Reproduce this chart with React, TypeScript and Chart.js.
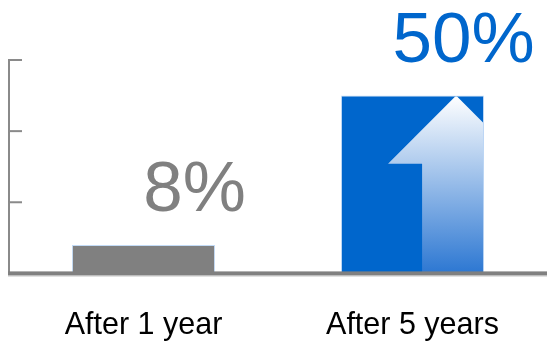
import React, { useEffect, useRef } from "react";
import { Chart, registerables } from "chart.js";

Chart.register(...registerables);

// Growth figures
const categories = ["After 1 year", "After 5 years"];
const values = [8, 50];
const yTicks = [20, 40, 60];
const yMax = 60;

const barColors = ["#808080", "#0066cc"];
const FONT = '"Liberation Sans", Arial, Helvetica, sans-serif';

// Draws the axis frame, the rising arrow inside the second bar and the value captions.
const decorations = {
  id: "decorations",
  afterDatasetsDraw(chart: any) {
    const { ctx, chartArea } = chart;
    const y = chart.scales.y;
    const meta = chart.getDatasetMeta(0);
    const zeroY = y.getPixelForValue(0);

    // arrow inside the second bar
    const bar: any = meta.data[1];
    if (bar) {
      const w = bar.width;
      const left = bar.x - w / 2;
      const right = bar.x + w / 2;
      const top = bar.y;
      const base = bar.base;
      const tipX = left + 0.805 * w;
      const head = 0.476 * w;
      const shaft = 0.238 * w;
      ctx.save();
      ctx.beginPath();
      ctx.rect(left + 1, top + 1, right - left - 2, base - top - 1);
      ctx.clip();
      const g = ctx.createLinearGradient(0, top, 0, base);
      g.addColorStop(0, "#ffffff");
      g.addColorStop(1, "#2c77d2");
      ctx.fillStyle = g;
      ctx.beginPath();
      ctx.moveTo(tipX, top);
      ctx.lineTo(tipX + head, top + head);
      ctx.lineTo(tipX + shaft, top + head);
      ctx.lineTo(tipX + shaft, base);
      ctx.lineTo(tipX - shaft, base);
      ctx.lineTo(tipX - shaft, top + head);
      ctx.lineTo(tipX - head, top + head);
      ctx.closePath();
      ctx.fill();
      ctx.restore();
    }

    // vertical axis with inward ticks
    ctx.save();
    ctx.fillStyle = "#8a8a8a";
    const axisX = chartArea.left;
    const topY = y.getPixelForValue(yMax);
    ctx.fillRect(axisX - 1, topY - 1, 2, zeroY - topY + 1);
    yTicks.forEach((t) => {
      const ty = y.getPixelForValue(t);
      ctx.fillRect(axisX - 1, ty - 1, 14, 2);
    });
    // baseline
    ctx.fillStyle = "#808080";
    ctx.fillRect(axisX - 1, zeroY - 2, chart.width - axisX + 1, 4);
    ctx.fillStyle = "#b4b4b4";
    ctx.fillRect(axisX - 1, zeroY + 2, chart.width - axisX + 1, 1);
    ctx.restore();

    // value captions
    ctx.save();
    ctx.font = `71px ${FONT}`;
    ctx.textAlign = "center";
    ctx.textBaseline = "alphabetic";
    meta.data.forEach((el: any, i: number) => {
      ctx.fillStyle = barColors[i];
      ctx.fillText(`${values[i]}%`, el.x + 51, el.y - 34);
    });
    ctx.restore();
  },
};

export default function App() {
  const ref = useRef<HTMLCanvasElement>(null);

  useEffect(() => {
    if (!ref.current) return;
    const chart = new Chart(ref.current, {
      type: "bar",
      data: {
        labels: categories,
        datasets: [
          {
            data: values,
            backgroundColor: barColors,
            borderColor: "#c3dbf6",
            borderWidth: 1,
            borderSkipped: "bottom",
            barPercentage: 0.532,
            categoryPercentage: 1,
          },
        ],
      },
      options: {
        responsive: false,
        animation: false,
        layout: { padding: { left: 9, right: 0, top: 60, bottom: -31 } },
        plugins: {
          legend: { display: false },
          tooltip: { enabled: false },
        },
        scales: {
          x: {
            grid: { display: false, drawTicks: false },
            border: { display: false },
            ticks: {
              color: "#000000",
              font: { family: FONT, size: 30.5 },
              padding: 34,
            },
          },
          y: {
            display: false,
            min: 0,
            max: yMax,
          },
        },
      },
      plugins: [decorations],
    });
    return () => chart.destroy();
  }, []);

  return (
    <div style={{ position: "absolute", left: 0, top: 0, width: 547, height: 347, background: "#ffffff" }}>
      <canvas ref={ref} width={547} height={347} />
    </div>
  );
}
